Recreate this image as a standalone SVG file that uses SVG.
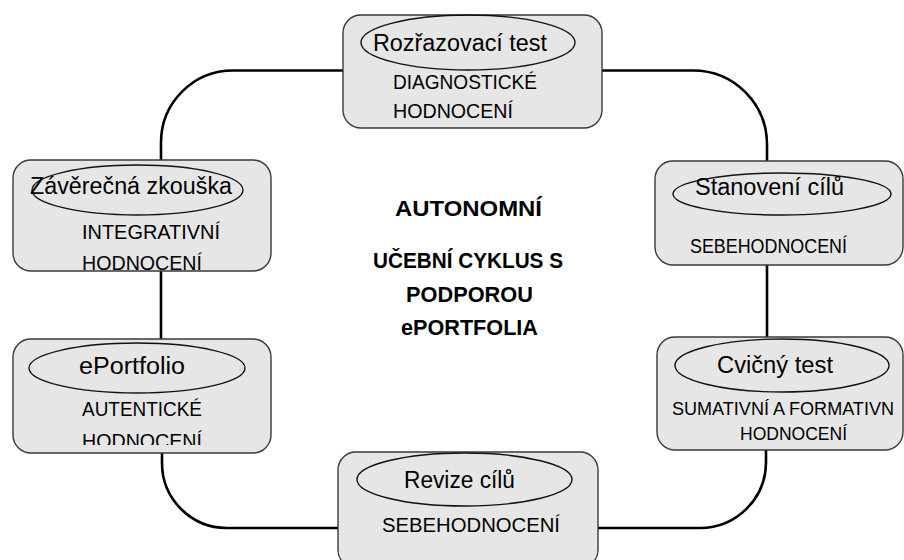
<svg xmlns="http://www.w3.org/2000/svg" width="904" height="560" viewBox="0 0 904 560">
  <defs>
    <style>
      .box { fill: #e7e6e6; stroke: #3a3a3a; stroke-width: 1.4; }
      .oval { fill: none; stroke: #111; stroke-width: 1.4; }
      .link { fill: none; stroke: #000; stroke-width: 2.6; }
      text { font-family: "Liberation Sans", Arial, sans-serif; fill: #000; }
      .lbl { font-size: 23.5px; }
      .sub { font-size: 20.5px; }
      .sub-s { font-size: 19px; }
      .title { font-size: 22px; font-weight: bold; }
    </style>
    <clipPath id="clip-portfolio">
      <rect x="13" y="339" width="258" height="106"/>
    </clipPath>
  </defs>

  <rect width="904" height="560" fill="#ffffff"/>

  <!-- cycle connectors -->
  <g id="connectors">
    <path class="link" d="M343,70.5 H233 A72,72 0 0 0 161,142.5 V161"/>
    <path class="link" d="M161,271 V339"/>
    <path class="link" d="M162,453 V463 A65,65 0 0 0 227,528 H338"/>
    <path class="link" d="M602,70.5 H693 A74,74 0 0 1 767,144.5 V161"/>
    <path class="link" d="M767,265 V337"/>
    <path class="link" d="M766,450 V462 A66,66 0 0 1 700,528 H597"/>
  </g>

  <g id="node-rozrazovaci">
    <rect class="box" x="343" y="15" width="259" height="113" rx="18"/>
    <ellipse class="oval" cx="468" cy="42.5" rx="107" ry="27.5"/>
    <text class="lbl" x="373" y="51" textLength="174" lengthAdjust="spacingAndGlyphs">Rozřazovací test</text>
    <text class="sub" x="393" y="89" textLength="144" lengthAdjust="spacingAndGlyphs">DIAGNOSTICKÉ</text>
    <text class="sub" x="393" y="118" textLength="120" lengthAdjust="spacingAndGlyphs">HODNOCENÍ</text>
  </g>

  <g id="node-zaverecna">
    <rect class="box" x="13" y="160" width="258" height="111" rx="18"/>
    <ellipse class="oval" cx="137.5" cy="190" rx="105.5" ry="25"/>
    <text class="lbl" x="30" y="194" textLength="202" lengthAdjust="spacingAndGlyphs">Závěrečná zkouška</text>
    <text class="sub" x="82" y="239" textLength="138" lengthAdjust="spacingAndGlyphs">INTEGRATIVNÍ</text>
    <text class="sub" x="82" y="270" textLength="120" lengthAdjust="spacingAndGlyphs">HODNOCENÍ</text>
  </g>

  <g id="node-stanoveni">
    <rect class="box" x="655" y="161" width="248" height="104" rx="18"/>
    <ellipse class="oval" cx="782" cy="194" rx="109" ry="21"/>
    <text class="lbl" x="695" y="195" textLength="149" lengthAdjust="spacingAndGlyphs">Stanovení cílů</text>
    <text class="sub" x="690" y="253" textLength="157" lengthAdjust="spacingAndGlyphs">SEBEHODNOCENÍ</text>
  </g>

  <g id="node-eportfolio">
    <rect class="box" x="13" y="339" width="258" height="114" rx="18"/>
    <ellipse class="oval" cx="137" cy="368" rx="108" ry="25"/>
    <text class="lbl" x="79" y="374" textLength="106" lengthAdjust="spacingAndGlyphs">ePortfolio</text>
    <text class="sub" x="82" y="416" textLength="120" lengthAdjust="spacingAndGlyphs">AUTENTICKÉ</text>
    <g clip-path="url(#clip-portfolio)">
      <text class="sub" x="82" y="448" textLength="120" lengthAdjust="spacingAndGlyphs">HODNOCENÍ</text>
    </g>
  </g>

  <g id="node-cvicny">
    <rect class="box" x="657" y="337" width="246" height="113" rx="18"/>
    <ellipse class="oval" cx="782" cy="365.5" rx="107" ry="26.5"/>
    <text class="lbl" x="717" y="373" textLength="116" lengthAdjust="spacingAndGlyphs">Cvičný test</text>
    <text class="sub-s" x="672" y="415" textLength="222" lengthAdjust="spacingAndGlyphs">SUMATIVNÍ A FORMATIVN</text>
    <text class="sub-s" x="740" y="440" textLength="107" lengthAdjust="spacingAndGlyphs">HODNOCENÍ</text>
  </g>

  <g id="node-revize">
    <rect class="box" x="338" y="452" width="260" height="116" rx="18"/>
    <ellipse class="oval" cx="464.5" cy="479.5" rx="107.5" ry="26.5"/>
    <text class="lbl" x="404" y="488" textLength="111" lengthAdjust="spacingAndGlyphs">Revize cílů</text>
    <text class="sub" x="382" y="532" textLength="178" lengthAdjust="spacingAndGlyphs">SEBEHODNOCENÍ</text>
  </g>

  <g id="title">
    <text class="title" x="395" y="216" textLength="147" lengthAdjust="spacingAndGlyphs">AUTONOMNÍ</text>
    <text class="title" x="373" y="268" textLength="190" lengthAdjust="spacingAndGlyphs">UČEBNÍ CYKLUS S</text>
    <text class="title" x="406" y="302" textLength="127" lengthAdjust="spacingAndGlyphs">PODPOROU</text>
    <text class="title" x="401" y="335" textLength="137" lengthAdjust="spacingAndGlyphs">ePORTFOLIA</text>
  </g>
</svg>
